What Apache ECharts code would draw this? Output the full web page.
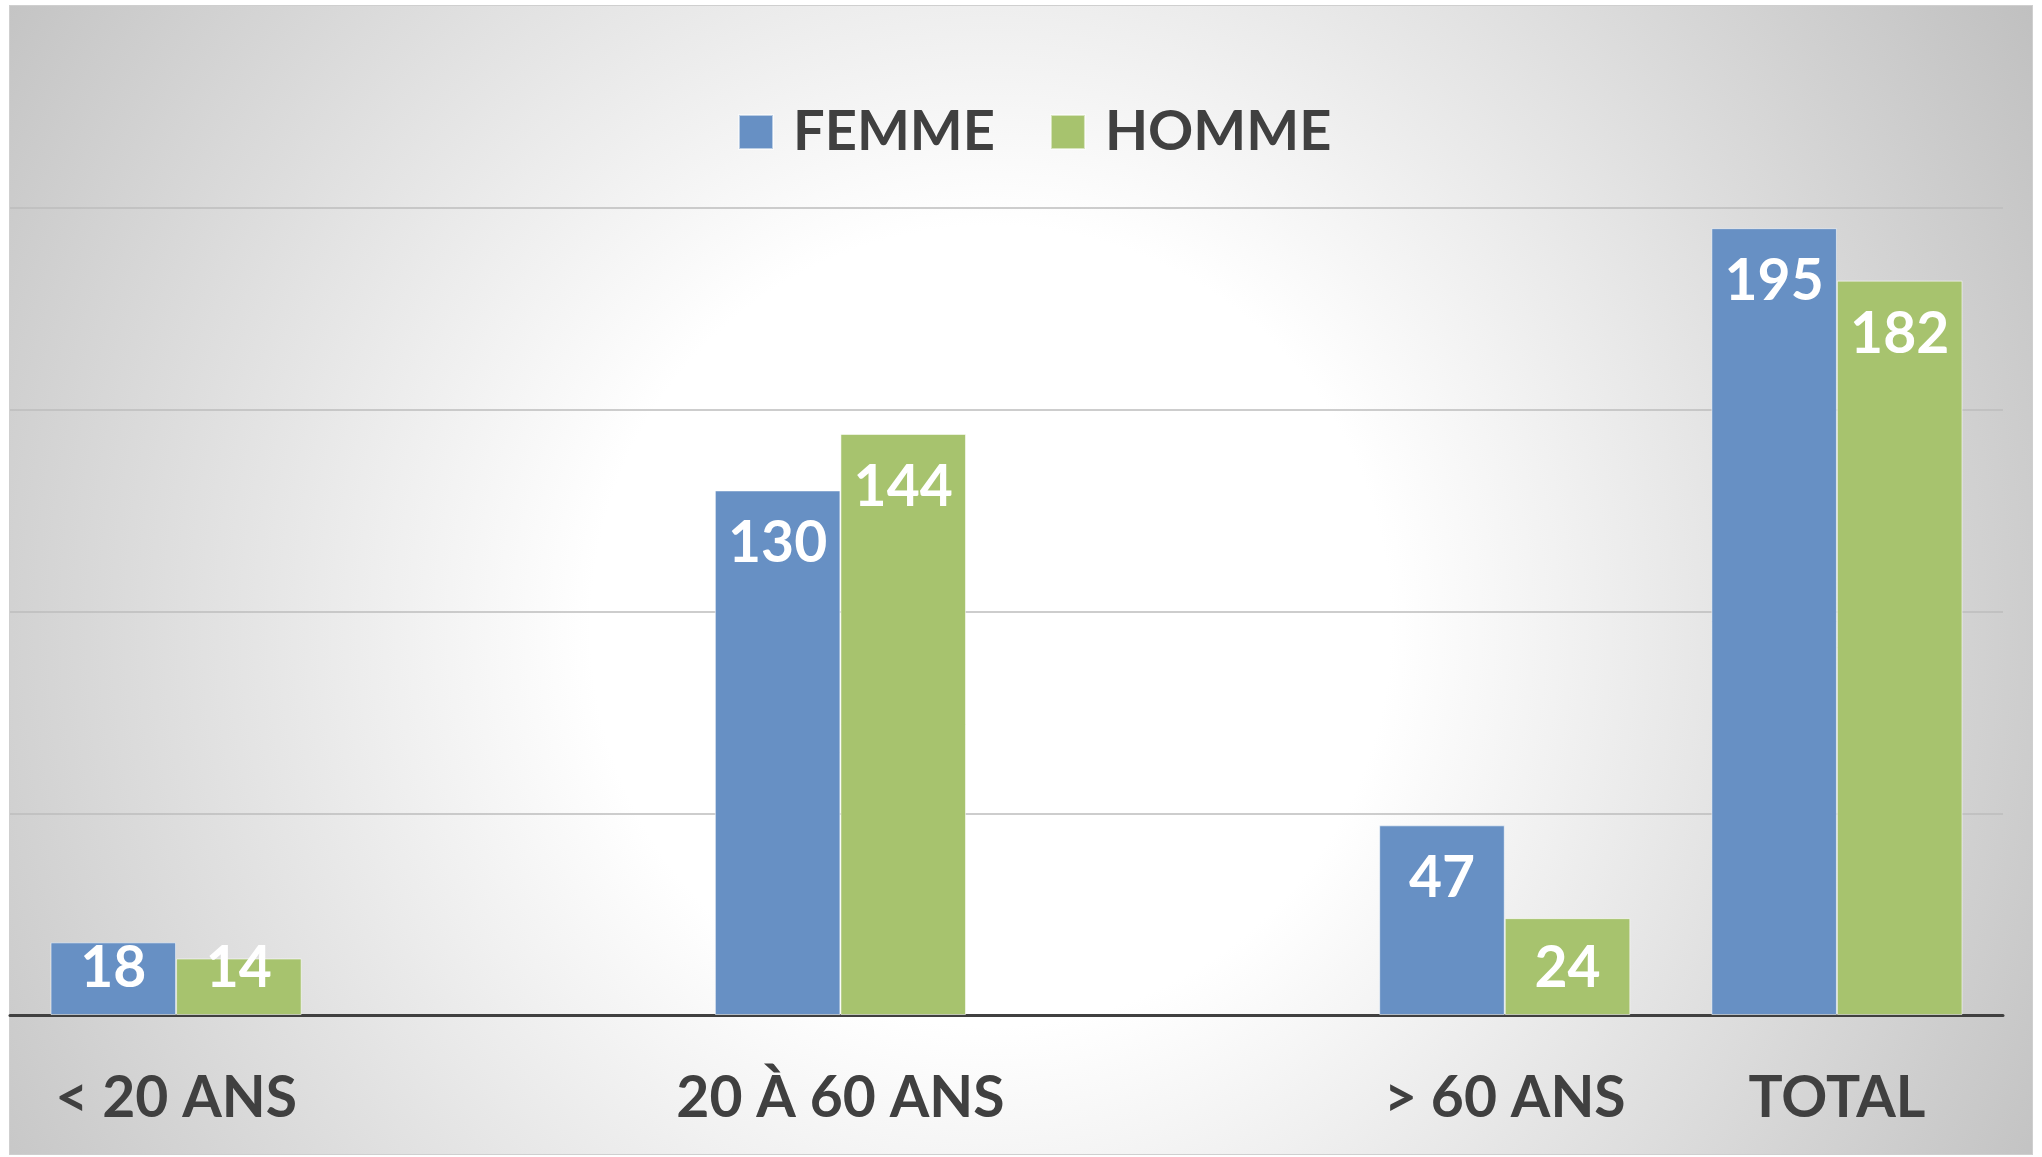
<!DOCTYPE html>
<html>
<head>
<meta charset="utf-8">
<script src="https://cdn.jsdelivr.net/npm/echarts@6/dist/echarts.min.js"></script>
<style>
  html, body { margin: 0; padding: 0; background: #ffffff; }
  #bg {
    position: absolute; left: 9px; top: 5px; width: 2024px; height: 1150px;
    border: 1px solid #cfcfcf; box-sizing: border-box;
    background: radial-gradient(circle farthest-corner at 48.5% 54%, #ffffff 0%, #ffffff 33%, #c0c0c0 100%);
  }
  #chart { position: absolute; left: 0; top: 0; width: 2042px; height: 1157px; }
</style>
</head>
<body>
<div id="bg"></div>
<div id="chart"></div>
<script>
// Categories (blank slots are empty positions on the axis)
const categories = ['< 20 ANS', '', '20 À 60 ANS', '', '> 60 ANS', 'TOTAL'];
const seriesNames = ['FEMME', 'HOMME'];
const femmeValues = [18, null, 130, null, 47, 195];
const hommeValues = [14, null, 144, null, 24, 182];
const yMin = 0, yMax = 200, yInterval = 50;

const FONT = 'Lato';
const TEXT_DARK = '#404040';
const BLUE = '#6790C4';
const GREEN = '#A7C36E';

// labels sit inside the bar top; short bars get their label pinned near the base
function buildData(values) {
  return values.map(v => {
    if (v === null) return '-';
    if (v < 25) {
      return { value: v, label: { position: 'insideBottom', distance: 18 } };
    }
    return v;
  });
}

const labelStyle = {
  show: true,
  position: 'insideTop',
  distance: 25,
  color: '#ffffff',
  fontFamily: FONT,
  fontWeight: 'bold',
  fontSize: 57
};

const chart = echarts.init(document.getElementById('chart'), null, { renderer: 'canvas' });
chart.setOption({
  backgroundColor: 'transparent',
  animation: false,
  legend: {
    left: 738,
    top: 104,
    padding: 0,
    itemWidth: 34,
    itemHeight: 34,
    itemGap: 55,
    icon: 'rect',
    textStyle: {
      color: TEXT_DARK,
      fontFamily: FONT,
      fontWeight: 'bold',
      fontSize: 56,
      padding: [0, 0, 0, 15]
    },
    data: seriesNames
  },
  grid: { left: 10, right: 39, top: 208, bottom: 142, containLabel: false },
  xAxis: {
    type: 'category',
    data: categories,
    axisLine: { show: true, lineStyle: { color: '#404040', width: 3 } },
    axisTick: { show: false },
    axisLabel: {
      interval: 0,
      margin: 55,
      color: TEXT_DARK,
      fontFamily: FONT,
      fontWeight: 'bold',
      fontSize: 57
    }
  },
  yAxis: {
    type: 'value',
    min: yMin,
    max: yMax,
    interval: yInterval,
    axisLine: { show: false },
    axisTick: { show: false },
    axisLabel: { show: false },
    splitLine: { show: true, lineStyle: { color: '#bdbdbd', width: 1.5 } }
  },
  series: [
    {
      name: seriesNames[0],
      type: 'bar',
      data: buildData(femmeValues),
      barGap: '0%',
      barCategoryGap: '24.4%',
      itemStyle: { color: BLUE, borderColor: 'rgba(255,255,255,0.55)', borderWidth: 1 },
      label: labelStyle
    },
    {
      name: seriesNames[1],
      type: 'bar',
      data: buildData(hommeValues),
      barGap: '0%',
      barCategoryGap: '24.4%',
      itemStyle: { color: GREEN, borderColor: 'rgba(255,255,255,0.55)', borderWidth: 1 },
      label: labelStyle
    }
  ]
});
</script>
</body>
</html>
